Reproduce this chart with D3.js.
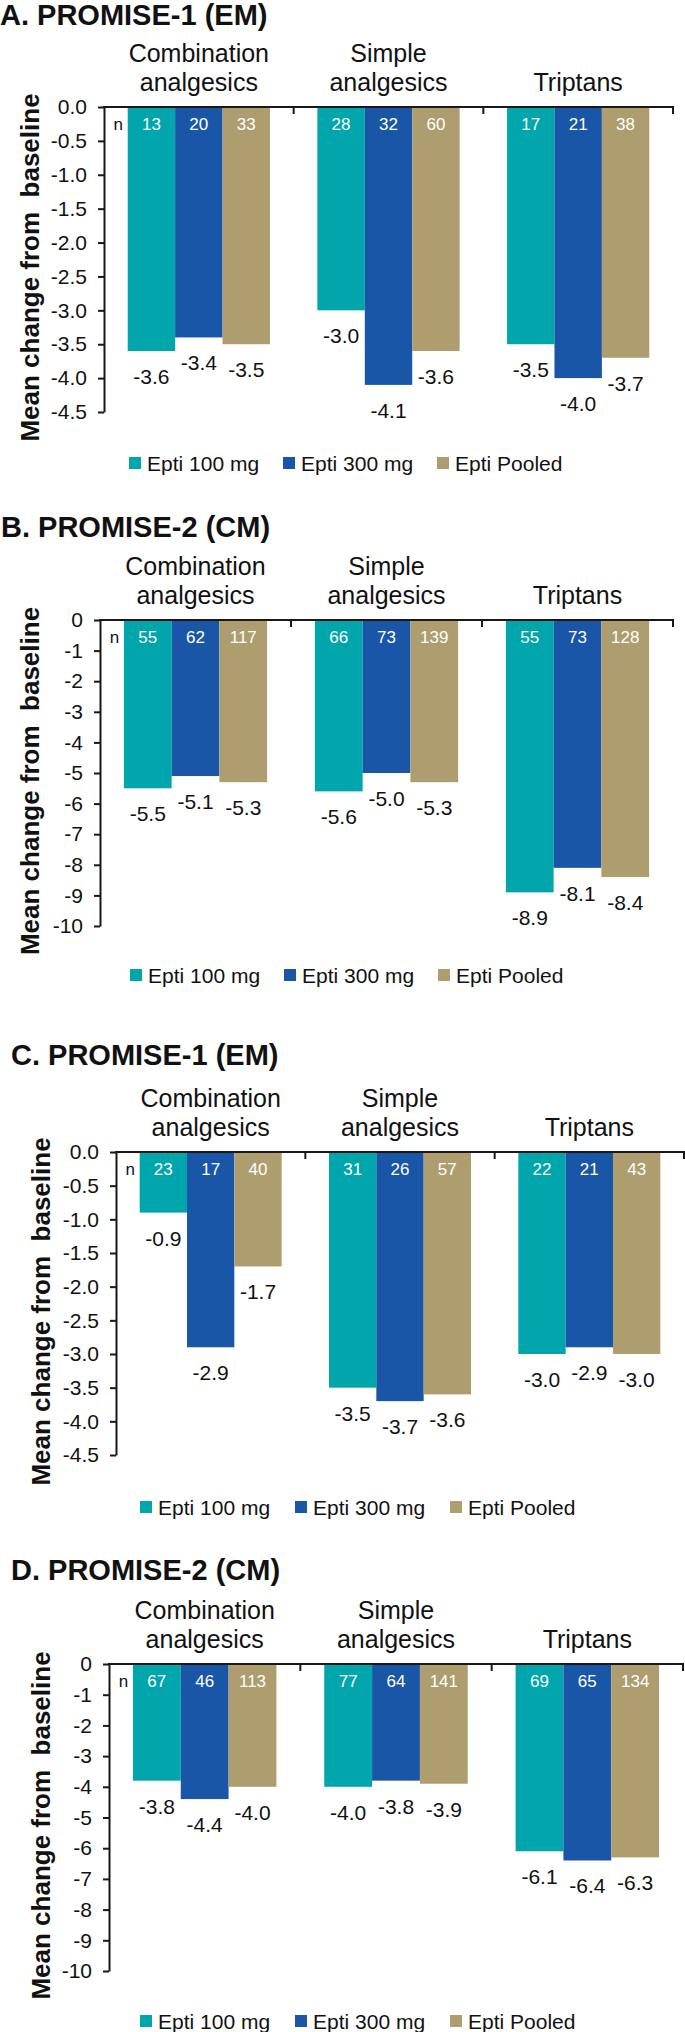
<!DOCTYPE html>
<html>
<head>
<meta charset="utf-8">
<script src="https://cdn.jsdelivr.net/npm/d3@7"></script>
<style>
  html, body { margin: 0; padding: 0; background: #fff; }
  svg { display: block; }
  text { font-family: "Liberation Sans", Arial, sans-serif; }
</style>
</head>
<body>
<script>
// ---------------- DATA ----------------
const categories = ["Combination analgesics", "Simple analgesics", "Triptans"];
const categoryLines = [["Combination", "analgesics"], ["Simple", "analgesics"], ["Triptans"]];
const series = ["Epti 100 mg", "Epti 300 mg", "Epti Pooled"];
const seriesColors = ["#00A6AC", "#1A56A8", "#AE9E6F"];

const panelTitles = ["A. PROMISE-1 (EM)", "B. PROMISE-2 (CM)", "C. PROMISE-1 (EM)", "D. PROMISE-2 (CM)"];
const yAxisTitle = "Mean change from  baseline";

// values per category: [Epti 100, Epti 300, Pooled]
const valuesA = [[-3.6, -3.4, -3.5], [-3.0, -4.1, -3.6], [-3.5, -4.0, -3.7]];
const nA      = [[13, 20, 33], [28, 32, 60], [17, 21, 38]];
const valuesB = [[-5.5, -5.1, -5.3], [-5.6, -5.0, -5.3], [-8.9, -8.1, -8.4]];
const nB      = [[55, 62, 117], [66, 73, 139], [55, 73, 128]];
const valuesC = [[-0.9, -2.9, -1.7], [-3.5, -3.7, -3.6], [-3.0, -2.9, -3.0]];
const nC      = [[23, 17, 40], [31, 26, 57], [22, 21, 43]];
const valuesD = [[-3.8, -4.4, -4.0], [-4.0, -3.8, -3.9], [-6.1, -6.4, -6.3]];
const nD      = [[67, 46, 113], [77, 64, 141], [69, 65, 134]];

const ticksEM = [0, -0.5, -1, -1.5, -2, -2.5, -3, -3.5, -4, -4.5];
const ticksCM = [0, -1, -2, -3, -4, -5, -6, -7, -8, -9, -10];
const tickFormatEM = ".1f";
const tickFormatCM = "d";

// ---------------- LAYOUT ----------------
const W = 685, H = 2032;
const FONT_AXIS = 21;
const hy = f => (v => d3.format(f)(v).replace("\u2212", "-"));

const panels = [
  { title: panelTitles[0], values: valuesA, n: nA, ticks: ticksEM, fmt: tickFormatEM,
    titleX: 0, titleY: 25, axisX: 104, axisEnd: 673, zeroY: 107, bottomY: 412,
    yTitleX: 39, legendY: 463, legendXs: [129, 283, 437] },
  { title: panelTitles[1], values: valuesB, n: nB, ticks: ticksCM, fmt: tickFormatCM,
    titleX: 1, titleY: 537, axisX: 100, axisEnd: 673, zeroY: 620, bottomY: 926,
    yTitleX: 39, legendY: 975, legendXs: [130, 284, 438] },
  { title: panelTitles[2], values: valuesC, n: nC, ticks: ticksEM, fmt: tickFormatEM,
    titleX: 11, titleY: 1065, axisX: 116, axisEnd: 684, zeroY: 1152, bottomY: 1455,
    yTitleX: 50, legendY: 1507, legendXs: [140, 295, 450] },
  { title: panelTitles[3], values: valuesD, n: nD, ticks: ticksCM, fmt: tickFormatCM,
    titleX: 11, titleY: 1580, axisX: 109, axisEnd: 683, zeroY: 1664, bottomY: 1971,
    yTitleX: 50, legendY: 2021, legendXs: [140, 295, 450] }
];

const svg = d3.select("body").append("svg")
  .attr("width", W).attr("height", H)
  .attr("viewBox", `0 0 ${W} ${H}`);
svg.append("rect").attr("width", W).attr("height", H).attr("fill", "#fff");

const AXIS_COLOR = "#1b1715";

panels.forEach(p => {
  const g = svg.append("g");
  const tickMin = d3.min(p.ticks);

  const x0 = d3.scaleBand().domain(categories).range([p.axisX, p.axisEnd]).paddingInner(0).paddingOuter(0);
  const bw = x0.bandwidth();
  const x1 = d3.scaleBand().domain(series).range([bw * 0.125, bw * 0.875]).padding(0);
  const y = d3.scaleLinear().domain([0, tickMin]).range([p.zeroY, p.bottomY]);
  const color = d3.scaleOrdinal().domain(series).range(seriesColors);

  // title
  g.append("text")
    .attr("x", p.titleX).attr("y", p.titleY)
    .attr("font-size", 29).attr("font-weight", "bold").attr("fill", "#111")
    .text(p.title);

  // category labels (bottom aligned)
  categories.forEach((c, i) => {
    const lines = categoryLines[i];
    const cx = x0(c) + bw / 2;
    const t = g.append("text").attr("text-anchor", "middle").attr("font-size", 25).attr("fill", "#111");
    lines.forEach((ln, j) => {
      const fromBottom = lines.length - 1 - j;
      t.append("tspan").attr("x", cx).attr("y", p.zeroY - 16 - fromBottom * 29).text(ln);
    });
  });

  // bars
  const groups = g.selectAll("g.grp").data(categories).join("g")
    .attr("class", "grp")
    .attr("transform", c => `translate(${x0(c)},0)`);

  groups.each(function (c, i) {
    const gg = d3.select(this);
    const rows = series.map((s, k) => ({ s, v: p.values[i][k], n: p.n[i][k] }));
    gg.selectAll("rect").data(rows).join("rect")
      .attr("x", d => x1(d.s))
      .attr("y", y(0))
      .attr("width", x1.bandwidth())
      .attr("height", d => y(d.v) - y(0))
      .attr("fill", d => color(d.s));
    // n labels
    gg.selectAll("text.n").data(rows).join("text")
      .attr("class", "n")
      .attr("x", d => x1(d.s) + x1.bandwidth() / 2)
      .attr("y", p.zeroY + 23)
      .attr("text-anchor", "middle")
      .attr("font-size", 17).attr("fill", "#fff")
      .text(d => d.n);
    // value labels
    gg.selectAll("text.v").data(rows).join("text")
      .attr("class", "v")
      .attr("x", d => x1(d.s) + x1.bandwidth() / 2)
      .attr("y", d => y(d.v) + 33)
      .attr("text-anchor", "middle")
      .attr("font-size", FONT_AXIS).attr("fill", "#111")
      .text(d => hy(".1f")(d.v));
  });

  // "n" label
  g.append("text")
    .attr("x", x0(categories[0]) + x1(series[0]) - 9.5)
    .attr("y", p.zeroY + 23)
    .attr("text-anchor", "middle")
    .attr("font-size", 17).attr("fill", "#111")
    .text("n");

  // y axis
  const yAxis = d3.axisLeft(y).tickValues(p.ticks).tickSize(6).tickSizeOuter(0).tickPadding(11)
    .tickFormat(hy(p.fmt));
  const ya = g.append("g").attr("transform", `translate(${p.axisX},0)`).call(yAxis);
  ya.select(".domain").attr("stroke", AXIS_COLOR).attr("stroke-width", 2);
  ya.selectAll(".tick line").attr("stroke", AXIS_COLOR).attr("stroke-width", 2);
  ya.selectAll(".tick text").attr("font-size", FONT_AXIS).attr("fill", "#111")
    .attr("font-family", "'Liberation Sans', Arial, sans-serif");

  // x axis line at zero + ticks at band boundaries
  g.append("line")
    .attr("x1", p.axisX - 1).attr("x2", p.axisEnd + 1)
    .attr("y1", y(0)).attr("y2", y(0))
    .attr("stroke", AXIS_COLOR).attr("stroke-width", 2);
  g.selectAll("line.xt").data(categories).join("line")
    .attr("class", "xt")
    .attr("x1", c => x0(c) + bw).attr("x2", c => x0(c) + bw)
    .attr("y1", y(0)).attr("y2", y(0) + 7)
    .attr("stroke", AXIS_COLOR).attr("stroke-width", 2);

  // y axis title
  const midY = (p.zeroY + p.bottomY) / 2 + 8;
  g.append("text")
    .attr("transform", `translate(${p.yTitleX},${midY}) rotate(-90)`)
    .attr("text-anchor", "middle")
    .attr("font-size", 26).attr("font-weight", "bold").attr("fill", "#111")
    .style("white-space", "pre")
    .text(yAxisTitle);

  // legend
  series.forEach((s, k) => {
    const lx = p.legendXs[k];
    g.append("rect")
      .attr("x", lx).attr("y", p.legendY - 6)
      .attr("width", 12).attr("height", 12)
      .attr("fill", color(s));
    g.append("text")
      .attr("x", lx + 18).attr("y", p.legendY + 7.5)
      .attr("font-size", FONT_AXIS).attr("fill", "#111")
      .text(s);
  });
});
</script>
</body>
</html>
